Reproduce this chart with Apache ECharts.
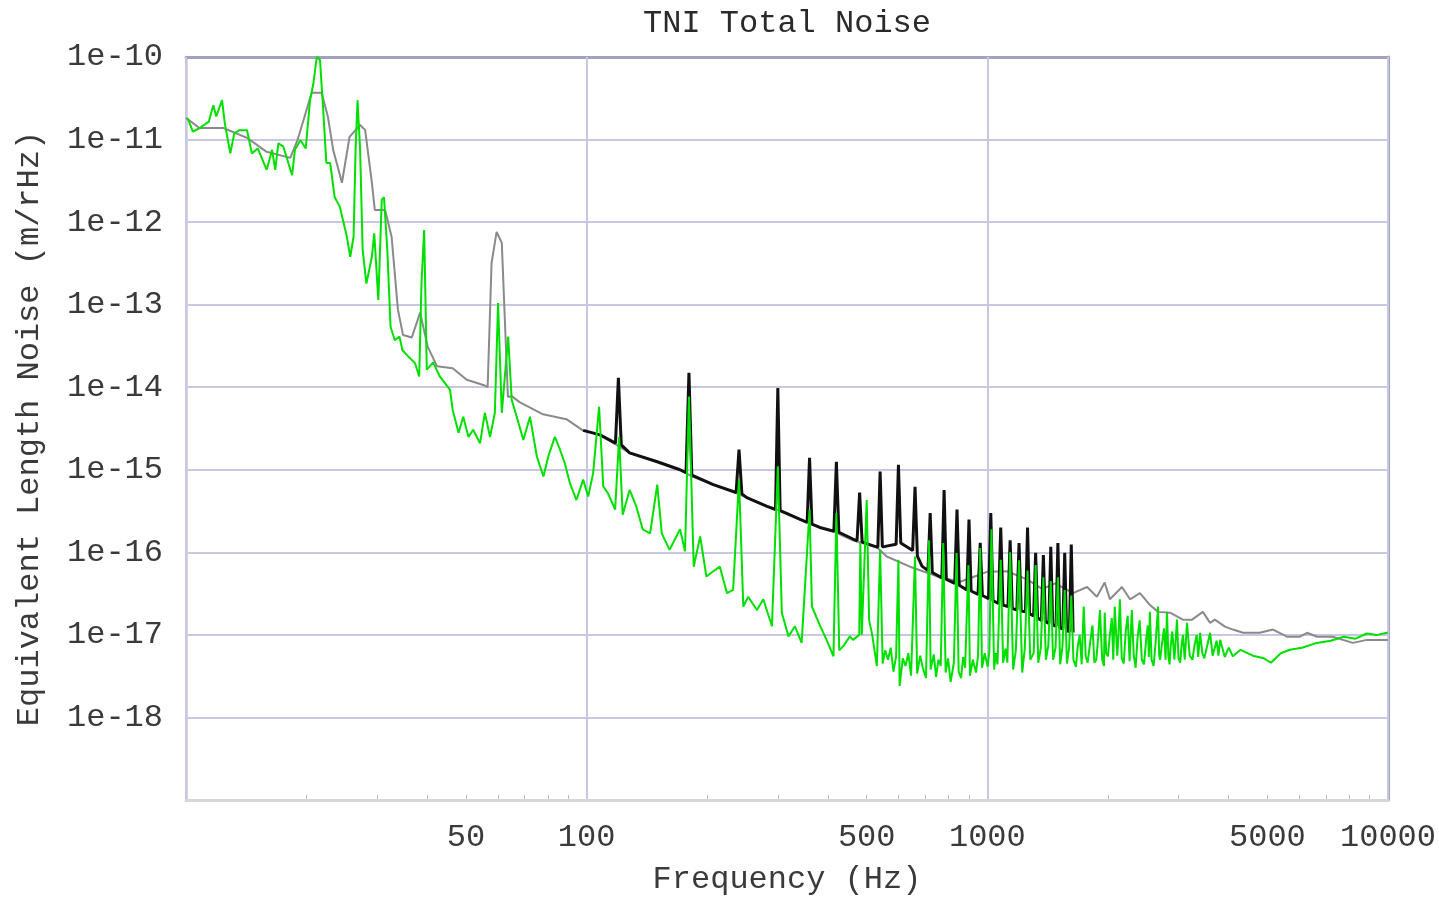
<!DOCTYPE html>
<html>
<head>
<meta charset="utf-8">
<title>TNI Total Noise</title>
<script src="https://cdn.jsdelivr.net/npm/echarts@6.0.0/dist/echarts.min.js"></script>
<style>
  html, body { margin: 0; padding: 0; background: #fff; }
  #chart { width: 1439px; height: 898px; }
</style>
</head>
<body>
<div id="chart"></div>
<script>
// chart text
const titleText = "TNI Total Noise";
const xName = "Frequency (Hz)";
const yName = "Equivalent Length Noise (m/rHz)";

// axis ticks
const xLabelValues = [50, 100, 500, 1000, 5000, 10000];
const xMinorTicks = [20, 30, 40, 50, 60, 70, 80, 90, 200, 300, 400, 500, 600, 700, 800, 900,
  2000, 3000, 4000, 5000, 6000, 7000, 8000, 9000];

// gray trace [Hz, m/rHz]
const grayTrace = [
  [10, 1.83e-11], [10.8, 1.38e-11], [12.4, 1.38e-11], [14.2, 1.05e-11], [15.9, 7.1e-12],
  [18.2, 6.0e-12], [19.0, 1.0e-11], [20.0, 2.3e-11], [20.6, 3.7e-11], [21.8, 3.7e-11],
  [22.6, 1.9e-11], [23.3, 7.5e-12], [24.5, 3.0e-12], [25.6, 1.08e-11], [27.2, 1.5e-11],
  [28.0, 1.3e-11], [29.1, 3.0e-12], [29.6, 1.4e-12], [31.4, 1.4e-12], [32.6, 6.6e-13],
  [33.8, 8.7e-14], [34.8, 4.3e-14], [36.6, 4.0e-14], [38.4, 8.0e-14], [40.1, 3.1e-14],
  [42.3, 1.8e-14], [46.3, 1.7e-14], [50.2, 1.23e-14], [55.7, 1.05e-14], [56.6, 1.0e-14],
  [57.9, 3.2e-13], [59.6, 7.6e-13], [61.4, 5.6e-13], [63.6, 7.6e-15], [65, 7.8e-15],
  [68, 6.6e-15], [77.8, 4.7e-15], [89, 4.1e-15], [97.8, 3.0e-15], [108, 2.65e-15],
  [128, 1.6e-15], [150, 1.25e-15], [171, 1.0e-15], [184, 8.2e-16], [207, 6.6e-16],
  [232, 5.4e-16], [251, 4.6e-16], [282, 3.6e-16], [316, 3.0e-16], [341, 2.5e-16],
  [382, 2.0e-16], [412, 1.8e-16], [462, 1.4e-16], [530, 1.15e-16], [561, 8.9e-17],
  [641, 6.7e-17], [762, 5.0e-17], [855, 4.4e-17], [940, 5.2e-17], [998, 5.8e-17],
  [1119, 5.9e-17], [1256, 4.7e-17], [1370, 3.6e-17], [1477, 4.2e-17], [1636, 3.2e-17],
  [1774, 3.8e-17], [1877, 2.9e-17], [1963, 4.3e-17], [2023, 2.7e-17], [2168, 3.8e-17],
  [2270, 2.7e-17], [2404, 3.2e-17], [2547, 2.3e-17], [2667, 1.9e-17], [2858, 1.86e-17],
  [3076, 1.53e-17], [3243, 1.53e-17], [3451, 1.9e-17], [3597, 1.4e-17], [3698, 1.53e-17],
  [3917, 1.26e-17], [4102, 1.16e-17], [4345, 1.06e-17], [4786, 1.06e-17], [5164, 1.16e-17],
  [5597, 9.5e-18], [6029, 9.5e-18], [6281, 1.06e-17], [6653, 9.5e-18], [7282, 9.5e-18],
  [8171, 8.0e-18], [8851, 8.7e-18], [10000, 8.7e-18]
];

// black trace with 60 Hz harmonics [Hz, m/rHz]
const blackTrace = [
  [98, 3.0e-15], [108, 2.65e-15], [118, 2.1e-15], [120, 1.3e-14], [122, 2.0e-15],
  [128, 1.6e-15], [150, 1.25e-15], [171, 1.0e-15], [177, 9.2e-16], [180, 1.5e-14],
  [183, 8.6e-16], [207, 6.6e-16], [236, 5.3e-16], [240, 1.75e-15], [244, 5.1e-16],
  [251, 4.6e-16], [282, 3.6e-16], [296, 3.3e-16], [300, 9.8e-15], [304, 3.2e-16],
  [341, 2.5e-16], [355, 2.3e-16], [360, 1.4e-15], [365, 2.2e-16], [382, 2.0e-16],
  [414, 1.8e-16], [420, 1.25e-15], [426, 1.75e-16], [462, 1.45e-16], [473, 1.38e-16],
  [480, 5.3e-16], [487, 1.33e-16], [533, 1.15e-16], [540, 9.5e-16], [547, 1.17e-16],
  [556, 1.18e-16], [592, 1.25e-16], [600, 1.15e-15], [608, 1.3e-16], [614, 1.3e-16],
  [651, 1.05e-16], [660, 6.2e-16], [669, 9.0e-17], [687, 6.8e-17], [711, 6.0e-17],
  [720, 3.0e-16], [729, 5.7e-17], [770, 4.9e-17], [780, 5.7e-16], [790, 4.7e-17],
  [829, 4.2e-17], [840, 3.3e-16], [851, 4.0e-17], [889, 3.5e-17], [900, 2.5e-16],
  [911, 3.4e-17], [948, 3.1e-17], [960, 1.3e-16], [972, 3.0e-17], [1007, 2.75e-17],
  [1020, 3.0e-16], [1033, 2.6e-17], [1066, 2.4e-17], [1080, 2.0e-16], [1094, 2.3e-17],
  [1126, 2.2e-17], [1140, 1.4e-16], [1154, 2.1e-17], [1185, 2.0e-17], [1200, 1.3e-16],
  [1215, 1.95e-17], [1245, 1.9e-17], [1260, 2.0e-16], [1275, 1.8e-17], [1305, 1.7e-17],
  [1320, 9.9e-17], [1335, 1.6e-17], [1364, 1.5e-17], [1380, 9.3e-17], [1396, 1.45e-17],
  [1424, 1.38e-17], [1440, 1.17e-16], [1456, 1.33e-17], [1484, 1.27e-17], [1500, 1.3e-16],
  [1516, 1.22e-17], [1543, 1.17e-17], [1560, 9.9e-17], [1577, 1.12e-17], [1603, 1.1e-17],
  [1620, 1.24e-16], [1637, 1.07e-17]
];

// green trace [Hz, m/rHz]
const greenTrace = [
  [10.1, 1.8e-11], [10.4, 1.25e-11], [10.8, 1.37e-11], [11.4, 1.65e-11], [11.7, 2.6e-11],
  [11.9, 1.9e-11], [12.3, 3.0e-11], [12.5, 1.57e-11], [12.9, 6.8e-12], [13.2, 1.19e-11],
  [13.6, 1.3e-11], [14.2, 1.3e-11], [14.6, 6.8e-12], [15.1, 7.8e-12], [15.9, 4.3e-12],
  [16.4, 7.5e-12], [16.7, 4.3e-12], [17.0, 9.0e-12], [17.5, 8.2e-12], [18.4, 3.7e-12],
  [18.7, 7.5e-12], [19.3, 9.9e-12], [19.9, 7.8e-12], [20.4, 3.0e-11], [20.8, 4.8e-11],
  [21.2, 1.0e-10], [21.6, 9.2e-11], [22.0, 2.3e-11], [22.4, 5.2e-12], [22.9, 5.2e-12],
  [23.5, 2.0e-12], [24.2, 1.54e-12], [25.2, 6.7e-13], [25.7, 3.8e-13], [26.2, 6.7e-13],
  [26.5, 7.5e-12], [26.8, 3.0e-11], [27.2, 7.5e-12], [27.6, 4.6e-13], [28.2, 1.8e-13],
  [29.1, 3.8e-13], [29.5, 7.3e-13], [30.2, 1.14e-13], [30.8, 1.86e-12], [31.2, 2.0e-12],
  [31.8, 4.6e-13], [32.4, 5.4e-14], [33.2, 3.7e-14], [34.1, 4.1e-14], [34.7, 2.8e-14],
  [35.9, 2.35e-14], [37.3, 1.95e-14], [38.2, 1.35e-14], [38.7, 1.8e-13], [39.3, 8.0e-13],
  [39.9, 1.63e-14], [41.4, 2.0e-14], [43.0, 1.35e-14], [44.3, 1.12e-14], [45.6, 9.3e-15],
  [46.3, 5.3e-15], [47.9, 2.8e-15], [49.2, 4.4e-15], [50.7, 2.5e-15], [52.1, 3.05e-15],
  [54.2, 2.1e-15], [55.7, 4.9e-15], [57.4, 2.5e-15], [59.0, 4.9e-15], [60.1, 1.05e-13],
  [61.4, 4.9e-15], [63.7, 4.1e-14], [65.0, 7.0e-15], [66.9, 4.4e-15], [69.5, 2.3e-15],
  [72.2, 4.4e-15], [75.1, 1.45e-15], [78.0, 8.3e-16], [80.2, 1.45e-15], [83.3, 2.5e-15],
  [85.8, 1.75e-15], [88.2, 1.2e-15], [90.8, 6.9e-16], [94.3, 4.3e-16], [98.0, 7.6e-16],
  [100.9, 4.75e-16], [103.8, 9.1e-16], [107.4, 5.8e-15], [110, 6.3e-16], [113, 5.2e-16],
  [117.8, 3.3e-16], [120.5, 2.5e-15], [123, 2.85e-16], [128, 5.7e-16], [133, 3.6e-16],
  [138, 1.9e-16], [144, 1.7e-16], [150, 6.6e-16], [154, 1.7e-16], [161, 1.07e-16],
  [171, 1.9e-16], [176, 1.03e-16], [180, 7.7e-15], [185, 6.7e-17], [192, 1.56e-16],
  [199, 5.1e-17], [209, 6.1e-17], [215, 6.7e-17], [224, 3.2e-17], [232, 3.5e-17],
  [240, 7.6e-16], [246, 2.2e-17], [253, 2.9e-17], [266, 2.0e-17], [276, 2.7e-17],
  [290, 1.27e-17], [300, 1.1e-15], [307, 1.84e-17], [319, 9.6e-18], [331, 1.27e-17],
  [344, 8.0e-18], [360, 3.3e-16], [365, 2.2e-17], [383, 1.27e-17], [397, 8.7e-18],
  [413, 5.5e-18], [420, 3.0e-16], [427, 6.5e-18], [437, 7.3e-18], [454, 9.6e-18],
  [462, 8.7e-18], [479, 1.0e-17], [482, 1.3e-16], [486, 1.0e-17], [500, 4.3e-16],
  [507, 1.5e-17], [516, 1.0e-17], [530, 4.2e-18], [540, 1.07e-16], [548, 4.5e-18],
  [556, 6.5e-18], [565, 5.0e-18], [574, 7.0e-18], [583, 3.6e-18], [592, 5.5e-18],
  [600, 8.1e-17], [604, 2.4e-18], [615, 5.2e-18], [625, 4.2e-18], [635, 6.0e-18],
  [645, 3.2e-18], [660, 8.9e-17], [668, 3.4e-18], [680, 5.6e-18], [690, 4.0e-18],
  [703, 3.0e-18], [715, 1.4e-16], [722, 3.8e-18], [735, 5.8e-18], [745, 3.1e-18],
  [755, 5.0e-18], [765, 4.2e-18], [776, 1.3e-16], [787, 3.5e-18], [798, 5.2e-18],
  [810, 2.7e-18], [825, 4.6e-18], [838, 9.8e-17], [848, 3.6e-18], [860, 3.0e-18],
  [870, 5.4e-18], [880, 4.0e-18], [897, 7.0e-17], [905, 3.2e-18], [920, 5.0e-18],
  [937, 3.5e-18], [948, 5.6e-18], [960, 1.13e-16], [970, 4.0e-18], [985, 6.0e-18],
  [1002, 4.1e-18], [1012, 6.5e-18], [1024, 1.9e-16], [1040, 3.8e-18], [1050, 6.0e-18],
  [1060, 4.4e-18], [1080, 8.1e-17], [1095, 4.6e-18], [1110, 6.8e-18], [1122, 4.6e-18],
  [1140, 1.0e-16], [1160, 3.8e-18], [1178, 6.5e-18], [1200, 8.0e-17], [1222, 3.5e-18],
  [1240, 6.8e-18], [1260, 6.0e-17], [1280, 5.0e-18], [1306, 6.1e-18], [1320, 7.0e-17],
  [1340, 4.6e-18], [1360, 7.0e-18], [1380, 5.0e-17], [1400, 5.0e-18], [1420, 7.5e-18],
  [1440, 4.5e-17], [1459, 5.0e-18], [1480, 7.0e-18], [1500, 5.0e-17], [1520, 4.4e-18],
  [1540, 7.2e-18], [1560, 3.5e-17], [1580, 4.5e-18], [1600, 7.0e-18], [1620, 3.0e-17],
  [1640, 5.0e-18], [1664, 4.1e-18], [1680, 7.0e-18], [1700, 1.0e-17], [1720, 4.4e-18],
  [1740, 2.2e-17], [1760, 5.5e-18], [1780, 4.6e-18], [1805, 8.0e-18], [1830, 1.3e-17],
  [1850, 4.6e-18], [1870, 5.0e-18], [1890, 9.0e-18], [1910, 2.0e-17], [1935, 5.0e-18],
  [1955, 4.2e-18], [1963, 1.86e-17], [1980, 6.0e-18], [2000, 5.5e-18], [2020, 9.5e-18],
  [2045, 1.6e-17], [2062, 5.0e-18], [2080, 2.2e-17], [2110, 5.6e-18], [2125, 1.0e-17],
  [2142, 2.7e-17], [2165, 5.2e-18], [2190, 4.5e-18], [2215, 1.1e-17], [2240, 1.7e-17],
  [2265, 4.8e-18], [2294, 2.0e-17], [2320, 5.6e-18], [2345, 4.0e-18], [2370, 9.0e-18],
  [2400, 1.5e-17], [2430, 5.0e-18], [2460, 4.4e-18], [2490, 8.5e-18], [2515, 1.3e-17],
  [2530, 5.4e-18], [2545, 1.9e-17], [2570, 5.0e-18], [2600, 4.2e-18], [2635, 9.0e-18],
  [2667, 2.2e-17], [2685, 5.6e-18], [2700, 5.0e-18], [2730, 8.0e-18], [2760, 1.2e-17],
  [2785, 5.0e-18], [2808, 1.9e-17], [2830, 5.6e-18], [2850, 4.4e-18], [2870, 7.5e-18],
  [2895, 1.1e-17], [2930, 5.0e-18], [2974, 1.53e-17], [3000, 5.2e-18], [3030, 4.6e-18],
  [3050, 7.0e-18], [3077, 1.0e-17], [3110, 5.0e-18], [3150, 1.4e-17], [3200, 5.6e-18],
  [3250, 5.0e-18], [3290, 7.5e-18], [3330, 1.0e-17], [3360, 5.4e-18], [3396, 1.06e-17],
  [3440, 6.0e-18], [3480, 5.2e-18], [3540, 7.5e-18], [3597, 1.06e-17], [3650, 5.6e-18],
  [3735, 8.5e-18], [3775, 5.6e-18], [3811, 8.7e-18], [3915, 5.4e-18], [4005, 7.0e-18],
  [4100, 5.5e-18], [4285, 6.6e-18], [4600, 5.6e-18], [4900, 5.2e-18], [5105, 4.6e-18],
  [5400, 6.0e-18], [5690, 6.6e-18], [6100, 7.0e-18], [6640, 8.0e-18], [7200, 8.5e-18],
  [7762, 9.5e-18], [8300, 9.0e-18], [8851, 1.04e-17], [9400, 1.0e-17], [10000, 1.07e-17]
];

const monoFont = "Liberation Mono";
const textColor = "#3a3a3a";
const gridColor = "#c8c8e4";
const axisGray = "#d6d6d6";
const borderColor = "#a2a2be";

const initChart = () => {
  const chart = echarts.init(document.getElementById("chart"));

  const lineSeries = (name, data, color, width, z) => ({
    name: name,
    type: "line",
    data: data,
    xAxisIndex: 0,
    yAxisIndex: 0,
    showSymbol: false,
    symbol: "none",
    z: z,
    lineStyle: { color: color, width: width },
    animation: false,
  });

  chart.setOption({
    backgroundColor: "#fff",
    animation: false,
    graphic: [
      {
        type: "text",
        x: 787,
        y: 8,
        style: {
          text: titleText,
          font: "32px '" + monoFont + "'",
          fill: "#2a2a2a",
          align: "center",
          verticalAlign: "top",
        },
      },
    ],
    grid: {
      left: 186,
      right: 51,
      top: 57,
      bottom: 98,
      containLabel: false,
      outerBoundsMode: "none",
    },
    xAxis: [
      {
        type: "log",
        logBase: 10,
        min: 10,
        max: 10000,
        position: "bottom",
        axisLine: { show: true, lineStyle: { color: axisGray, width: 3 } },
        axisTick: { show: false },
        axisLabel: { show: false },
        splitLine: { show: true, lineStyle: { color: gridColor, width: 2 } },
        z: 1,
      },
      {
        type: "log",
        logBase: 10,
        min: 10,
        max: 10000,
        position: "bottom",
        name: xName,
        nameLocation: "middle",
        nameGap: 64,
        nameTextStyle: { fontFamily: monoFont, fontSize: 32, color: textColor },
        axisLine: { show: false },
        axisTick: {
          show: true,
          inside: true,
          length: 5,
          customValues: xMinorTicks,
          lineStyle: { color: "#bbbbbb", width: 1 },
        },
        axisLabel: {
          show: true,
          customValues: xLabelValues,
          margin: 22,
          fontFamily: monoFont,
          fontSize: 32,
          color: textColor,
          formatter: (v) => String(Math.round(v)),
        },
        splitLine: { show: false },
      },
      {
        type: "log",
        logBase: 10,
        min: 10,
        max: 10000,
        position: "top",
        axisLine: { show: true, lineStyle: { color: borderColor, width: 3 } },
        axisTick: { show: false },
        axisLabel: { show: false },
        splitLine: { show: false },
      },
    ],
    yAxis: [
      {
        type: "log",
        logBase: 10,
        min: 1e-19,
        max: 1e-10,
        position: "left",
        name: yName,
        nameLocation: "middle",
        nameGap: 140,
        nameRotate: 90,
        nameTextStyle: { fontFamily: monoFont, fontSize: 32, color: textColor },
        axisLine: { show: true, lineStyle: { color: axisGray, width: 3 } },
        axisTick: { show: false },
        axisLabel: {
          margin: 23,
          fontFamily: monoFont,
          fontSize: 32,
          color: textColor,
          formatter: (v) => {
            const e = Math.round(Math.log10(v));
            return e <= -19 ? "" : "1e" + e;
          },
        },
        splitLine: { show: true, lineStyle: { color: gridColor, width: 2 } },
      },
      {
        type: "log",
        logBase: 10,
        min: 1e-19,
        max: 1e-10,
        position: "right",
        axisLine: { show: true, lineStyle: { color: borderColor, width: 3 } },
        axisTick: { show: false },
        axisLabel: { show: false },
        splitLine: { show: false },
      },
    ],
    series: [
      lineSeries("gray", grayTrace, "#8a8a8a", 2, 2),
      lineSeries("black", blackTrace, "#111111", 3, 3),
      lineSeries("green", greenTrace, "#00e000", 2, 4),
    ],
  });

  // 自适应
  window.onresize = function () {
    chart.resize();
  };
};

initChart();
</script>
</body>
</html>
